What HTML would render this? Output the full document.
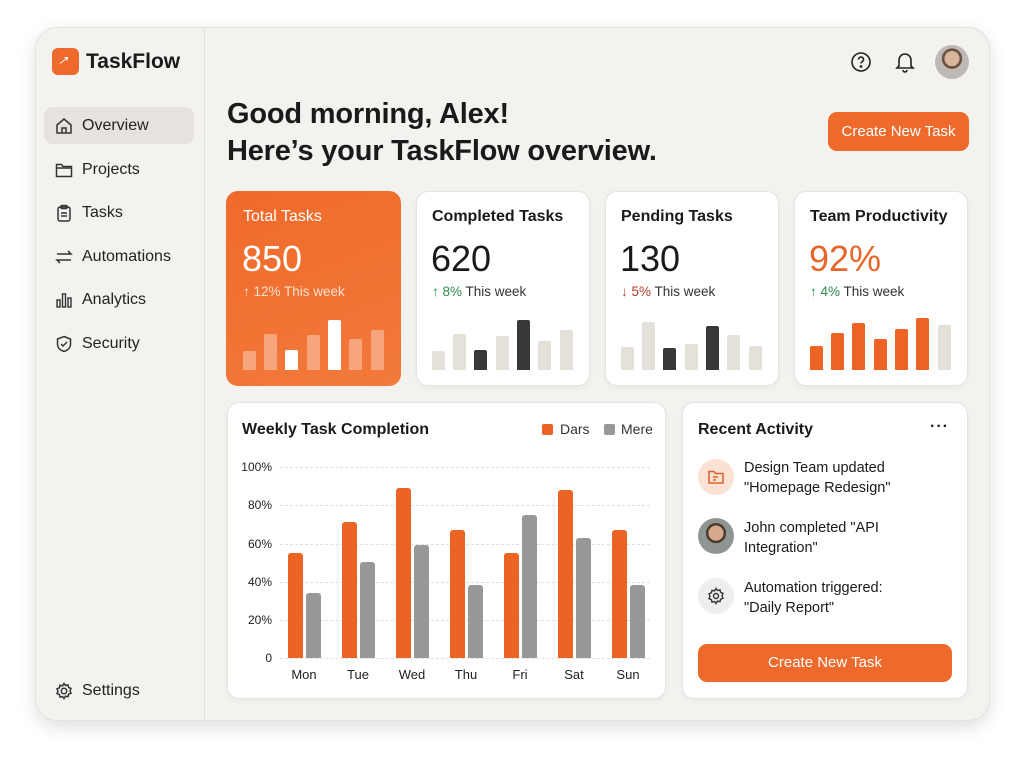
<!DOCTYPE html>
<html><head><meta charset="utf-8"><style>
*{box-sizing:border-box;margin:0;padding:0}
body{width:1024px;height:764px;background:#fff;font-family:"Liberation Sans",sans-serif;color:#1a1a1a;position:relative;overflow:hidden}
.a{position:absolute}
.frame{left:35px;top:27px;width:955px;height:694px;background:#f3f2ef;border-radius:22px;box-shadow:0 6px 18px rgba(0,0,0,.13);border:1px solid #e4e2dd}
.card{background:#fff;border-radius:12px;border:1px solid #e6e4e0;box-shadow:0 2px 6px rgba(0,0,0,.04)}
.nav{left:55px;font-size:16px;color:#222}
.nav svg{position:absolute;left:0;top:0}
.nav span{position:absolute;left:27px;top:0;white-space:nowrap}
.b{position:absolute;bottom:0;border-radius:2px 2px 0 0}
.t{font-size:16px;font-weight:bold;white-space:nowrap}
.big{font-size:36px;white-space:nowrap}
.sub{font-size:13.5px;white-space:nowrap;color:#333}
.yl{font-size:12px;color:#222;width:40px;text-align:right;left:232px}
.gl{left:280px;width:370px;border-top:1px dashed #e2e0dc;height:0}
.dl{font-size:13px;color:#222;width:40px;text-align:center;top:667px}
.ob{background:#ec6424;width:15px;border-radius:3px 3px 0 0}
.gb{background:#9a9896;width:15px;border-radius:3px 3px 0 0}
.btn{background:#ee6a2c;color:#fff;border-radius:9px;text-align:center;font-size:15px}
</style></head><body>
<div class="a frame"></div>
<div class="a" style="left:204px;top:28px;width:1px;height:692px;background:#e0ded9"></div>

<div class="a" style="left:52px;top:48px;width:27px;height:27px;border-radius:6px;background:#ee6a2c"></div>
<div class="a" style="left:58px;top:53px;color:#fff;font-size:12px;font-style:italic">↗</div>
<div class="a" style="left:86px;top:50px;font-size:21px;font-weight:bold">TaskFlow</div>

<div class="a" style="left:44px;top:107px;width:150px;height:37px;border-radius:9px;background:#e6e3de"></div>
<div class="a nav" style="top:117px"><svg width="18" height="18" viewBox="0 0 18 18" fill="none" stroke="#333" stroke-width="1.5"><path d="M2 8 9 2l7 6v8H2z"/><path d="M7 16v-5h4v5"/></svg><span>Overview</span></div>
<div class="a nav" style="top:161px"><svg width="18" height="18" viewBox="0 0 18 18" fill="none" stroke="#333" stroke-width="1.5"><path d="M1.5 3.5h5l1.5 2h8.5v10h-15z"/><path d="M1.5 7h15"/></svg><span>Projects</span></div>
<div class="a nav" style="top:204px"><svg width="18" height="18" viewBox="0 0 18 18" fill="none" stroke="#333" stroke-width="1.5"><rect x="3" y="3" width="12" height="14" rx="2"/><rect x="6" y="1.5" width="6" height="3" rx="1"/><path d="M6 9h6M6 12h6"/></svg><span>Tasks</span></div>
<div class="a nav" style="top:248px"><svg width="18" height="18" viewBox="0 0 18 18" fill="none" stroke="#333" stroke-width="1.5"><path d="M2 6h14l-3-3M16 12H2l3 3"/></svg><span>Automations</span></div>
<div class="a nav" style="top:291px"><svg width="18" height="18" viewBox="0 0 18 18" fill="none" stroke="#333" stroke-width="1.4"><rect x="2" y="9" width="3" height="7"/><rect x="7.5" y="3" width="3" height="13"/><rect x="13" y="7" width="3" height="9"/></svg><span>Analytics</span></div>
<div class="a nav" style="top:335px"><svg width="18" height="18" viewBox="0 0 18 18" fill="none" stroke="#333" stroke-width="1.5"><path d="M9 1.5l6.5 2.5v5c0 4-3 6.5-6.5 7.5C5.5 15.5 2.5 13 2.5 9V4z"/><path d="M6 9l2 2 4-4"/></svg><span>Security</span></div>
<div class="a nav" style="top:682px"><svg width="18" height="18" viewBox="0 0 18 18" fill="none" stroke="#333" stroke-width="1.5"><circle cx="9" cy="9" r="2.7"/><path d="M9 1.5l1.5 2 2.5-.6.6 2.5 2.4 1-1 2.5 1 2.3-2.4 1-.6 2.5-2.5-.6L9 16.5l-1.5-2-2.5.6-.6-2.5-2.4-1 1-2.4-1-2.4 2.4-1 .6-2.5 2.5.6z"/></svg><span>Settings</span></div>

<div class="a" style="left:227px;top:96px;font-size:29px;font-weight:bold;line-height:37px;white-space:nowrap;letter-spacing:-.2px">Good morning, Alex!<br>Here’s your TaskFlow overview.</div>

<svg class="a" style="left:850px;top:51px" width="22" height="22" viewBox="0 0 22 22" fill="none" stroke="#222" stroke-width="1.6"><circle cx="11" cy="11" r="9"/><path d="M8.5 8.5a2.5 2.5 0 1 1 3.5 2.3c-.7.4-1 .9-1 1.7"/><circle cx="11" cy="15.5" r=".6" fill="#222"/></svg>
<svg class="a" style="left:894px;top:50px" width="22" height="24" viewBox="0 0 22 24" fill="none" stroke="#222" stroke-width="1.6"><path d="M5 16V10a6 6 0 0 1 12 0v6l2 2H3z"/><path d="M9 20a2 2 0 0 0 4 0"/></svg>
<div class="a" style="left:935px;top:45px;width:34px;height:34px;border-radius:50%;background:radial-gradient(circle at 50% 40%,#d9b59c 0 28%,#6b5344 29% 38%,#bdbab5 39%)"></div>

<div class="a btn" style="left:828px;top:112px;width:141px;height:39px;line-height:39px">Create New Task</div>

<!-- stat cards -->
<div class="a" style="left:226px;top:191px;width:175px;height:195px;border-radius:12px;background:linear-gradient(160deg,#ef6a2a,#f27a3c)"></div>
<div class="a t" style="left:243px;top:208px;color:#fff;font-weight:normal">Total Tasks</div>
<div class="a big" style="left:242px;top:238px;color:#fff">850</div>
<div class="a sub" style="left:243px;top:284px;color:#fde0cf">↑ 12% This week</div>
<div class="a" style="left:243px;top:300px;width:145px;height:70px">
<div class="b" style="left:0;width:13px;height:19px;background:#f7a57c"></div>
<div class="b" style="left:21px;width:13px;height:36px;background:#f7a57c"></div>
<div class="b" style="left:42px;width:13px;height:20px;background:#fff"></div>
<div class="b" style="left:64px;width:13px;height:35px;background:#f7a57c"></div>
<div class="b" style="left:85px;width:13px;height:50px;background:#fff"></div>
<div class="b" style="left:106px;width:13px;height:31px;background:#f7a57c"></div>
<div class="b" style="left:128px;width:13px;height:40px;background:#f7a57c"></div></div>

<div class="a card" style="left:416px;top:191px;width:174px;height:195px"></div>
<div class="a t" style="left:432px;top:208px">Completed Tasks</div>
<div class="a big" style="left:431px;top:238px">620</div>
<div class="a sub" style="left:432px;top:284px"><span style="color:#2e8b4e">↑ 8%</span> This week</div>
<div class="a" style="left:432px;top:300px;width:145px;height:70px">
<div class="b" style="left:0;width:13px;height:19px;background:#e4e0da"></div>
<div class="b" style="left:21px;width:13px;height:36px;background:#e4e0da"></div>
<div class="b" style="left:42px;width:13px;height:20px;background:#3a3836"></div>
<div class="b" style="left:64px;width:13px;height:34px;background:#e4e0da"></div>
<div class="b" style="left:85px;width:13px;height:50px;background:#3a3836"></div>
<div class="b" style="left:106px;width:13px;height:29px;background:#e4e0da"></div>
<div class="b" style="left:128px;width:13px;height:40px;background:#e4e0da"></div></div>

<div class="a card" style="left:605px;top:191px;width:174px;height:195px"></div>
<div class="a t" style="left:621px;top:208px">Pending Tasks</div>
<div class="a big" style="left:620px;top:238px">130</div>
<div class="a sub" style="left:621px;top:284px"><span style="color:#b8382b">↓ 5%</span> This week</div>
<div class="a" style="left:621px;top:300px;width:145px;height:70px">
<div class="b" style="left:0;width:13px;height:23px;background:#e4e0da"></div>
<div class="b" style="left:21px;width:13px;height:48px;background:#e4e0da"></div>
<div class="b" style="left:42px;width:13px;height:22px;background:#3a3836"></div>
<div class="b" style="left:64px;width:13px;height:26px;background:#e4e0da"></div>
<div class="b" style="left:85px;width:13px;height:44px;background:#3a3836"></div>
<div class="b" style="left:106px;width:13px;height:35px;background:#e4e0da"></div>
<div class="b" style="left:128px;width:13px;height:24px;background:#e4e0da"></div></div>

<div class="a card" style="left:794px;top:191px;width:174px;height:195px"></div>
<div class="a t" style="left:810px;top:208px">Team Productivity</div>
<div class="a big" style="left:809px;top:238px;color:#e8662c">92%</div>
<div class="a sub" style="left:810px;top:284px"><span style="color:#2e8b4e">↑ 4%</span> This week</div>
<div class="a" style="left:810px;top:300px;width:145px;height:70px">
<div class="b" style="left:0;width:13px;height:24px;background:#ee6424"></div>
<div class="b" style="left:21px;width:13px;height:37px;background:#ee6424"></div>
<div class="b" style="left:42px;width:13px;height:47px;background:#ee6424"></div>
<div class="b" style="left:64px;width:13px;height:31px;background:#ee6424"></div>
<div class="b" style="left:85px;width:13px;height:41px;background:#ee6424"></div>
<div class="b" style="left:106px;width:13px;height:52px;background:#ee6424"></div>
<div class="b" style="left:128px;width:13px;height:45px;background:#e4e0da"></div></div>

<!-- chart card -->
<div class="a card" style="left:227px;top:402px;width:439px;height:297px"></div>
<div class="a t" style="left:242px;top:421px">Weekly Task Completion</div>
<div class="a" style="left:542px;top:424px;width:11px;height:11px;border-radius:2px;background:#ec6424"></div>
<div class="a" style="left:560px;top:421px;font-size:14px;color:#333">Dars</div>
<div class="a" style="left:604px;top:424px;width:11px;height:11px;border-radius:2px;background:#9a9896"></div>
<div class="a" style="left:621px;top:421px;font-size:14px;color:#333">Mere</div>

<div class="a gl" style="top:467px"></div><div class="a gl" style="top:505px"></div><div class="a gl" style="top:544px"></div><div class="a gl" style="top:582px"></div><div class="a gl" style="top:620px"></div><div class="a gl" style="top:658px"></div>
<div class="a yl" style="top:460px">100%</div><div class="a yl" style="top:498px">80%</div><div class="a yl" style="top:537px">60%</div><div class="a yl" style="top:575px">40%</div><div class="a yl" style="top:613px">20%</div><div class="a yl" style="top:651px">0</div>

<div class="a ob" style="left:288px;top:553px;height:105px"></div><div class="a gb" style="left:306px;top:593px;height:65px"></div>
<div class="a ob" style="left:342px;top:522px;height:136px"></div><div class="a gb" style="left:360px;top:562px;height:96px"></div>
<div class="a ob" style="left:396px;top:488px;height:170px"></div><div class="a gb" style="left:414px;top:545px;height:113px"></div>
<div class="a ob" style="left:450px;top:530px;height:128px"></div><div class="a gb" style="left:468px;top:585px;height:73px"></div>
<div class="a ob" style="left:504px;top:553px;height:105px"></div><div class="a gb" style="left:522px;top:515px;height:143px"></div>
<div class="a ob" style="left:558px;top:490px;height:168px"></div><div class="a gb" style="left:576px;top:538px;height:120px"></div>
<div class="a ob" style="left:612px;top:530px;height:128px"></div><div class="a gb" style="left:630px;top:585px;height:73px"></div>

<div class="a dl" style="left:284px">Mon</div><div class="a dl" style="left:338px">Tue</div><div class="a dl" style="left:392px">Wed</div><div class="a dl" style="left:446px">Thu</div><div class="a dl" style="left:500px">Fri</div><div class="a dl" style="left:554px">Sat</div><div class="a dl" style="left:608px">Sun</div>

<!-- activity -->
<div class="a card" style="left:682px;top:402px;width:286px;height:297px"></div>
<div class="a t" style="left:698px;top:421px">Recent Activity</div>
<div class="a" style="left:930px;top:418px;font-size:16px;font-weight:bold;letter-spacing:1px">···</div>
<div class="a" style="left:698px;top:459px;width:36px;height:36px;border-radius:50%;background:#fbe1d3"></div>
<svg class="a" style="left:707px;top:468px" width="18" height="18" viewBox="0 0 18 18" fill="none" stroke="#d9622a" stroke-width="1.5"><path d="M2 3.5h5l1.5 2h7.5v9.5H2z"/><path d="M6 9h5M6 12h3"/></svg>
<div class="a" style="left:744px;top:458px;font-size:14.5px;line-height:20px;white-space:nowrap">Design Team updated<br>"Homepage Redesign"</div>
<div class="a" style="left:698px;top:518px;width:36px;height:36px;border-radius:50%;background:radial-gradient(circle at 50% 42%,#d6a98c 0 27%,#4a3a30 28% 36%,#8f9591 37%)"></div>
<div class="a" style="left:744px;top:518px;font-size:14.5px;line-height:20px;white-space:nowrap">John completed "API<br>Integration"</div>
<div class="a" style="left:698px;top:578px;width:36px;height:36px;border-radius:50%;background:#efeeec"></div>
<svg class="a" style="left:707px;top:587px" width="18" height="18" viewBox="0 0 18 18" fill="none" stroke="#333" stroke-width="1.4"><circle cx="9" cy="9" r="2.5"/><path d="M9 1.5l1.5 2 2.5-.6.6 2.5 2.4 1-1 2.5 1 2.3-2.4 1-.6 2.5-2.5-.6L9 16.5l-1.5-2-2.5.6-.6-2.5-2.4-1 1-2.4-1-2.4 2.4-1 .6-2.5 2.5.6z"/></svg>
<div class="a" style="left:744px;top:578px;font-size:14.5px;line-height:20px;white-space:nowrap">Automation triggered:<br>"Daily Report"</div>
<div class="a btn" style="left:698px;top:644px;width:254px;height:38px;line-height:38px">Create New Task</div>
</body></html>
